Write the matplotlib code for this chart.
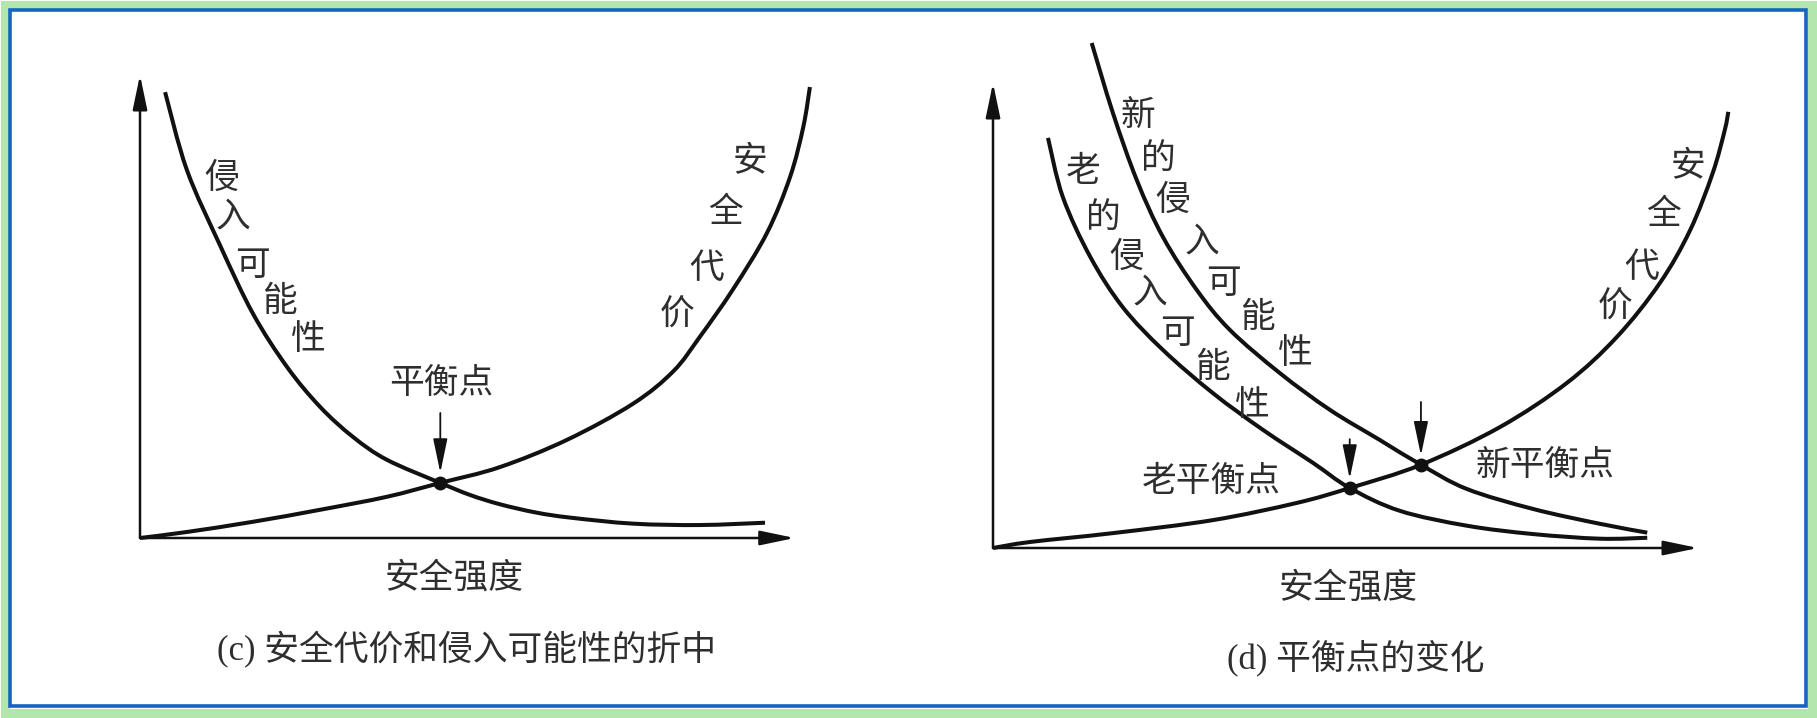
import numpy as np
import matplotlib
matplotlib.use("Agg")
import matplotlib.pyplot as plt
from matplotlib.patches import Rectangle, PathPatch
from matplotlib.path import Path

# ---------------- data ----------------
# Panel (c): security strength (x) vs value (y), units 0..10
c_intr_x = [0.38, 0.71, 1.21, 1.71, 2.23, 2.73, 3.23, 3.74, 4.55, 5.00, 5.45, 6.00, 6.52, 7.47, 8.48, 9.47]
c_intr_y = [9.63, 7.95, 6.33, 4.85, 3.69, 2.83, 2.18, 1.69, 1.19, 0.93, 0.73, 0.55, 0.44, 0.31, 0.28, 0.33]
c_cost_x = [0.00, 0.71, 1.71, 2.73, 3.74, 4.55, 5.45, 6.47, 7.47, 8.08, 8.48, 8.98, 9.50, 9.85, 10.05, 10.15]
c_cost_y = [0.00, 0.13, 0.35, 0.61, 0.89, 1.19, 1.53, 2.12, 2.90, 3.60, 4.34, 5.36, 6.59, 7.80, 8.88, 9.74]
c_eq = (4.55, 1.19)

# Panel (d)
d_new_x = [1.40, 1.70, 2.04, 2.41, 2.89, 3.36, 4.07, 4.78, 5.49, 6.07, 6.72, 7.66, 8.61, 9.28]
d_new_y = [10.86, 9.36, 7.91, 6.69, 5.55, 4.69, 3.76, 2.97, 2.32, 1.79, 1.27, 0.84, 0.52, 0.33]
d_old_x = [0.78, 0.99, 1.38, 1.84, 2.41, 3.12, 3.83, 4.54, 5.06, 5.77, 6.72, 7.66, 8.61, 9.28]
d_old_y = [8.82, 7.55, 6.26, 5.18, 4.26, 3.33, 2.54, 1.83, 1.29, 0.80, 0.48, 0.30, 0.20, 0.22]
d_cost_x = [0.00, 0.53, 1.70, 3.12, 4.31, 5.06, 6.07, 7.19, 8.14, 8.85, 9.46, 9.89, 10.21, 10.38, 10.43]
d_cost_y = [0.00, 0.13, 0.32, 0.60, 0.97, 1.29, 1.79, 2.60, 3.55, 4.54, 5.70, 6.84, 8.07, 8.99, 9.38]
d_old_eq = (5.06, 1.29)
d_new_eq = (6.07, 1.79)

x_label = "安全强度"
caption_c = "(c) 安全代价和侵入可能性的折中"
caption_d = "(d) 平衡点的变化"
intr_label = "侵入可能性"
cost_label = "安全代价"
eq_label = "平衡点"
old_intr_label = "老的侵入可能性"
new_intr_label = "新的侵入可能性"
old_eq_label = "老平衡点"
new_eq_label = "新平衡点"

# ---------------- figure ----------------
W, H = 1817, 718
fig = plt.figure(figsize=(W / 100, H / 100), dpi=100)
fig.patch.set_facecolor("white")

CJK = ["Noto Sans CJK SC", "DejaVu Sans"]
SERIF_CJK = ["Liberation Serif", "Noto Sans CJK SC", "DejaVu Sans"]
TXT = "#2e2e2e"
LINE = "#111111"
FS = 25


def fxy(px, py):
    return px / W, 1 - py / H


def ftext(px, py, s, fs=FS, family=CJK):
    x, y = fxy(px, py)
    fig.text(x, y, s, ha="center", va="center", fontsize=fs, color=TXT, family=family)


def arrow(ax, xy, xytext, lw=1.8):
    ax.annotate("", xy=xy, xytext=xytext, xycoords="data", textcoords="data",
                arrowprops=dict(arrowstyle="-|>,head_length=1.05,head_width=0.22",
                                mutation_scale=20, lw=lw, color=LINE,
                                shrinkA=0, shrinkB=0), annotation_clip=False)


def curve(ax, xs, ys, lw=2.9):
    """Smooth curve through the read points (Catmull-Rom drawn as cubic Bezier)."""
    pts = np.column_stack([xs, ys]).astype(float)
    n = len(pts)
    verts = [pts[0]]
    codes = [Path.MOVETO]
    for i in range(n - 1):
        p0 = pts[i - 1] if i > 0 else pts[i]
        p1, p2 = pts[i], pts[i + 1]
        p3 = pts[i + 2] if i + 2 < n else pts[i + 1]
        verts += [p1 + (p2 - p0) / 6.0, p2 - (p3 - p1) / 6.0, p2]
        codes += [Path.CURVE4] * 3
    ax.add_patch(PathPatch(Path(verts, codes), fill=False, ec=LINE, lw=lw,
                           capstyle="butt", joinstyle="round", clip_on=False))


def make_axes(ox, oy, tx, ty):
    ax = fig.add_axes([ox / W, 1 - oy / H, (tx - ox) / W, (oy - ty) / H])
    ax.set_xlim(0, 10)
    ax.set_ylim(0, 10)
    ax.axis("off")
    return ax


# panel (c)
ax_c = make_axes(140, 538, 800, 75)
arrow(ax_c, (0, 10), (0, 0))
arrow(ax_c, (9.92, 0), (0, 0))
curve(ax_c, c_intr_x, c_intr_y)
curve(ax_c, c_cost_x, c_cost_y)
ax_c.plot(*c_eq, "o", color=LINE, ms=9, zorder=5, clip_on=False)
arrow(ax_c, (c_eq[0], c_eq[1] + 0.22), (c_eq[0], c_eq[1] + 1.51), lw=1.3)

# panel (d)
ax_d = make_axes(993, 548, 1698, 83)
arrow(ax_d, (0, 10), (0, 0))
arrow(ax_d, (10, 0), (0, 0))
curve(ax_d, d_new_x, d_new_y)
curve(ax_d, d_old_x, d_old_y)
curve(ax_d, d_cost_x, d_cost_y)
for eq in (d_old_eq, d_new_eq):
    ax_d.plot(*eq, "o", color=LINE, ms=9, zorder=5, clip_on=False)
arrow(ax_d, (d_old_eq[0], d_old_eq[1] + 0.2), (d_old_eq[0], d_old_eq[1] + 1.05), lw=1.3)
arrow(ax_d, (d_new_eq[0], d_new_eq[1] + 0.2), (d_new_eq[0], d_new_eq[1] + 1.35), lw=1.3)

# ---------------- text ----------------
for ch, (px, py) in zip(intr_label, [(222, 178), (233, 217), (252, 265), (280, 302), (308, 340)]):
    ftext(px, py, ch)
for ch, (px, py) in zip(cost_label, [(750, 162), (725, 212), (707, 268), (677, 315)]):
    ftext(px, py, ch)
ftext(441, 384, eq_label)
ftext(454, 578, x_label)
ftext(466, 650, caption_c, family=SERIF_CJK)

for ch, (px, py) in zip(new_intr_label, [(1138, 115), (1158, 158), (1173, 200), (1202, 242),
                                         (1223, 283), (1258, 317), (1295, 353)]):
    ftext(px, py, ch)
for ch, (px, py) in zip(old_intr_label, [(1083, 172), (1103, 217), (1127, 257), (1150, 293),
                                         (1177, 333), (1213, 367), (1252, 405)]):
    ftext(px, py, ch)
for ch, (px, py) in zip(cost_label, [(1688, 167), (1663, 215), (1642, 267), (1615, 307)]):
    ftext(px, py, ch)
ftext(1211, 481, old_eq_label)
ftext(1545, 466, new_eq_label)
ftext(1348, 588, x_label)
ftext(1356, 658, caption_d, family=SERIF_CJK)

# ---------------- frame ----------------
fig.patches.append(Rectangle((5 / W, 5 / H), (W - 10) / W, (H - 10) / H, transform=fig.transFigure,
                             fill=False, ec="#b3e6ad", lw=6.5, zorder=0))
fig.patches.append(Rectangle((10 / W, 12 / H), (W - 21) / W, (H - 22) / H, transform=fig.transFigure,
                             fill=False, ec="#1565c0", lw=2.6, zorder=1))

fig.savefig("out.png", dpi=100, facecolor="white")
